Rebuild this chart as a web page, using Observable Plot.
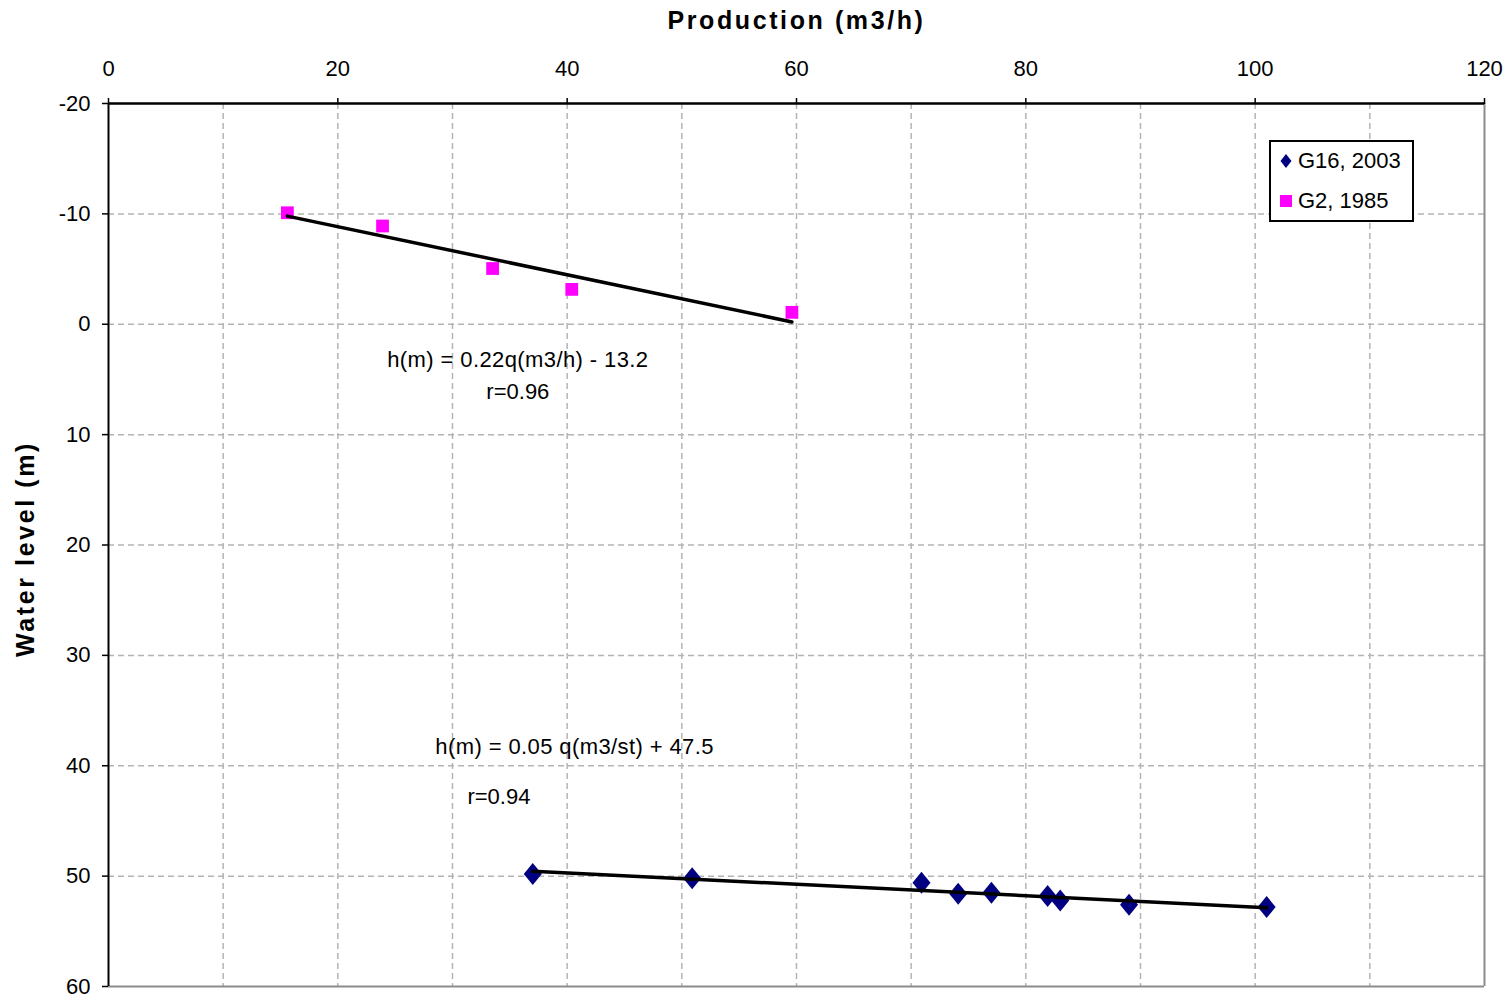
<!DOCTYPE html>
<html>
<head>
<meta charset="utf-8">
<script src="https://cdn.jsdelivr.net/npm/d3@7"></script>
<script src="https://cdn.jsdelivr.net/npm/@observablehq/plot@0.6"></script>
<style>
  html, body { margin: 0; padding: 0; background: #ffffff; }
  #chart { position: relative; width: 1510px; height: 998px; }
  .legend {
    position: absolute; left: 1269px; top: 140px; width: 145px; height: 82px;
    box-sizing: border-box; border: 2px solid #000; background: #fff;
    font-family: "Liberation Sans", Arial, sans-serif; font-size: 22px; color: #000;
  }
  .legend .item { position: absolute; left: 8px; height: 24px; display: flex; align-items: center; white-space: nowrap; }
  .legend svg { margin-right: 5px; }
</style>
</head>
<body>
<div id="chart"></div>
<script>
// ---- data ----
const xTicks = [0, 20, 40, 60, 80, 100, 120];
const yTicks = [-20, -10, 0, 10, 20, 30, 40, 50, 60];
const xGridValues = [10, 20, 30, 40, 50, 60, 70, 80, 90, 100, 110];
const yGridValues = [-10, 0, 10, 20, 30, 40, 50];

const seriesNames = ["G16, 2003", "G2, 1985"];
const seriesColors = ["#000080", "#ff00ff"];

const g16Production = [37.0, 50.9, 70.9, 74.1, 77.0, 81.9, 83.0, 89.0, 101.0];
const g16Level      = [49.8, 50.2, 50.6, 51.6, 51.5, 51.8, 52.2, 52.6, 52.8];

const g2Production = [15.6, 23.9, 33.5, 40.4, 59.6];
const g2Level      = [-10.1, -8.9, -5.05, -3.16, -1.08];

const xTitle = "Production (m3/h)";
const yTitle = "Water level (m)";

const centeredNotes = [
  {x: 35.7, y: 3.2, text: "h(m) = 0.22q(m3/h) - 13.2"},
  {x: 35.7, y: 6.1, text: "r=0.96"}
];
const leftNotes = [
  {x: 28.5, y: 38.3, text: "h(m) = 0.05 q(m3/st) + 47.5"},
  {x: 31.3, y: 42.8, text: "r=0.94"}
];

// ---- build tables ----
const g16 = g16Production.map((x, i) => ({x, y: g16Level[i]}));
const g2 = g2Production.map((x, i) => ({x, y: g2Level[i]}));

const tallDiamond = {
  draw(context, size) {
    const r = Math.sqrt(size / Math.PI);
    const h = r * 1.22;
    context.moveTo(0, -h);
    context.lineTo(r, 0);
    context.lineTo(0, h);
    context.lineTo(-r, 0);
    context.closePath();
  }
};

const FONT = "'Liberation Sans', Arial, sans-serif";
const gridStyle = {stroke: "#b4b4b4", strokeOpacity: 1, strokeWidth: 1.5, strokeDasharray: "6,4"};
const plainNumber = d => String(d);

const chart = Plot.plot({
  width: 1510,
  height: 998,
  marginLeft: 108,
  marginRight: 26,
  marginTop: 103,
  marginBottom: 12,
  style: {fontFamily: FONT, fontSize: "22px", color: "#000", background: "#fff"},
  x: {domain: [xTicks[0], xTicks[xTicks.length - 1]]},
  y: {domain: [yTicks[0], yTicks[yTicks.length - 1]], reverse: true},
  marks: [
    Plot.gridX(xGridValues, gridStyle),
    Plot.gridY(yGridValues, gridStyle),
    Plot.ruleX([xTicks[xTicks.length - 1]], {stroke: "#8c8c8c", strokeWidth: 2}),
    Plot.ruleY([yTicks[yTicks.length - 1]], {stroke: "#8c8c8c", strokeWidth: 2}),
    Plot.ruleX([xTicks[0]], {stroke: "#000", strokeWidth: 2}),
    Plot.ruleY([yTicks[0]], {stroke: "#000", strokeWidth: 2.5}),
    Plot.axisX({anchor: "top", ticks: xTicks, tickFormat: plainNumber, tickSize: 6, tickPadding: 22, label: null, fontSize: 22, strokeWidth: 1.5}),
    Plot.axisY({anchor: "left", ticks: yTicks, tickFormat: plainNumber, tickSize: 6, tickPadding: 12, label: null, fontSize: 22, strokeWidth: 1.5}),
    Plot.dot(g2, {x: "x", y: "y", symbol: "square", r: 7.2, fill: seriesColors[1], stroke: null}),
    Plot.dot(g16, {x: "x", y: "y", symbol: tallDiamond, r: 9, fill: seriesColors[0], stroke: null}),
    Plot.linearRegressionY(g2, {x: "x", y: "y", stroke: "#000", strokeWidth: 3.5, ci: 0}),
    Plot.linearRegressionY(g16, {x: "x", y: "y", stroke: "#000", strokeWidth: 3.5, ci: 0}),
    Plot.text(centeredNotes, {x: "x", y: "y", text: "text", textAnchor: "middle", fontSize: 22, fill: "#000"}),
    Plot.text(leftNotes, {x: "x", y: "y", text: "text", textAnchor: "start", fontSize: 22, fill: "#000"}),
    Plot.text([xTitle], {frameAnchor: "top", dy: -83, lineAnchor: "middle", textAnchor: "middle", fontWeight: "bold", fontSize: 25, fill: "#000"}),
    Plot.text([yTitle], {frameAnchor: "left", dx: -83, dy: 4, rotate: -90, lineAnchor: "middle", textAnchor: "middle", fontWeight: "bold", fontSize: 25, fill: "#000"})
  ]
});

// letter spacing for the bold axis titles and the equation notes
d3.select(chart).selectAll("text").each(function() {
  const t = this.textContent;
  if (t === xTitle || t === yTitle) d3.select(this).style("letter-spacing", "2.6px");
  else if (t.startsWith("h(m)")) d3.select(this).style("letter-spacing", "0.4px");
});

const host = document.getElementById("chart");
host.appendChild(chart);

// legend (inside the plot area, as in the reference)
const legend = document.createElement("div");
legend.className = "legend";
const symbolsSvg = [
  `<svg width="14" height="18" viewBox="-7 -9 14 18"><path d="M0,-7L5.5,0L0,7L-5.5,0Z" fill="${seriesColors[0]}"/></svg>`,
  `<svg width="14" height="18" viewBox="-7 -9 14 18"><rect x="-6" y="-6" width="12" height="12" fill="${seriesColors[1]}"/></svg>`
];
seriesNames.forEach((name, i) => {
  const item = document.createElement("div");
  item.className = "item";
  item.style.top = (i === 0 ? 7 : 47) + "px";
  item.innerHTML = symbolsSvg[i] + `<span>${name}</span>`;
  legend.appendChild(item);
});
host.appendChild(legend);
</script>
</body>
</html>
